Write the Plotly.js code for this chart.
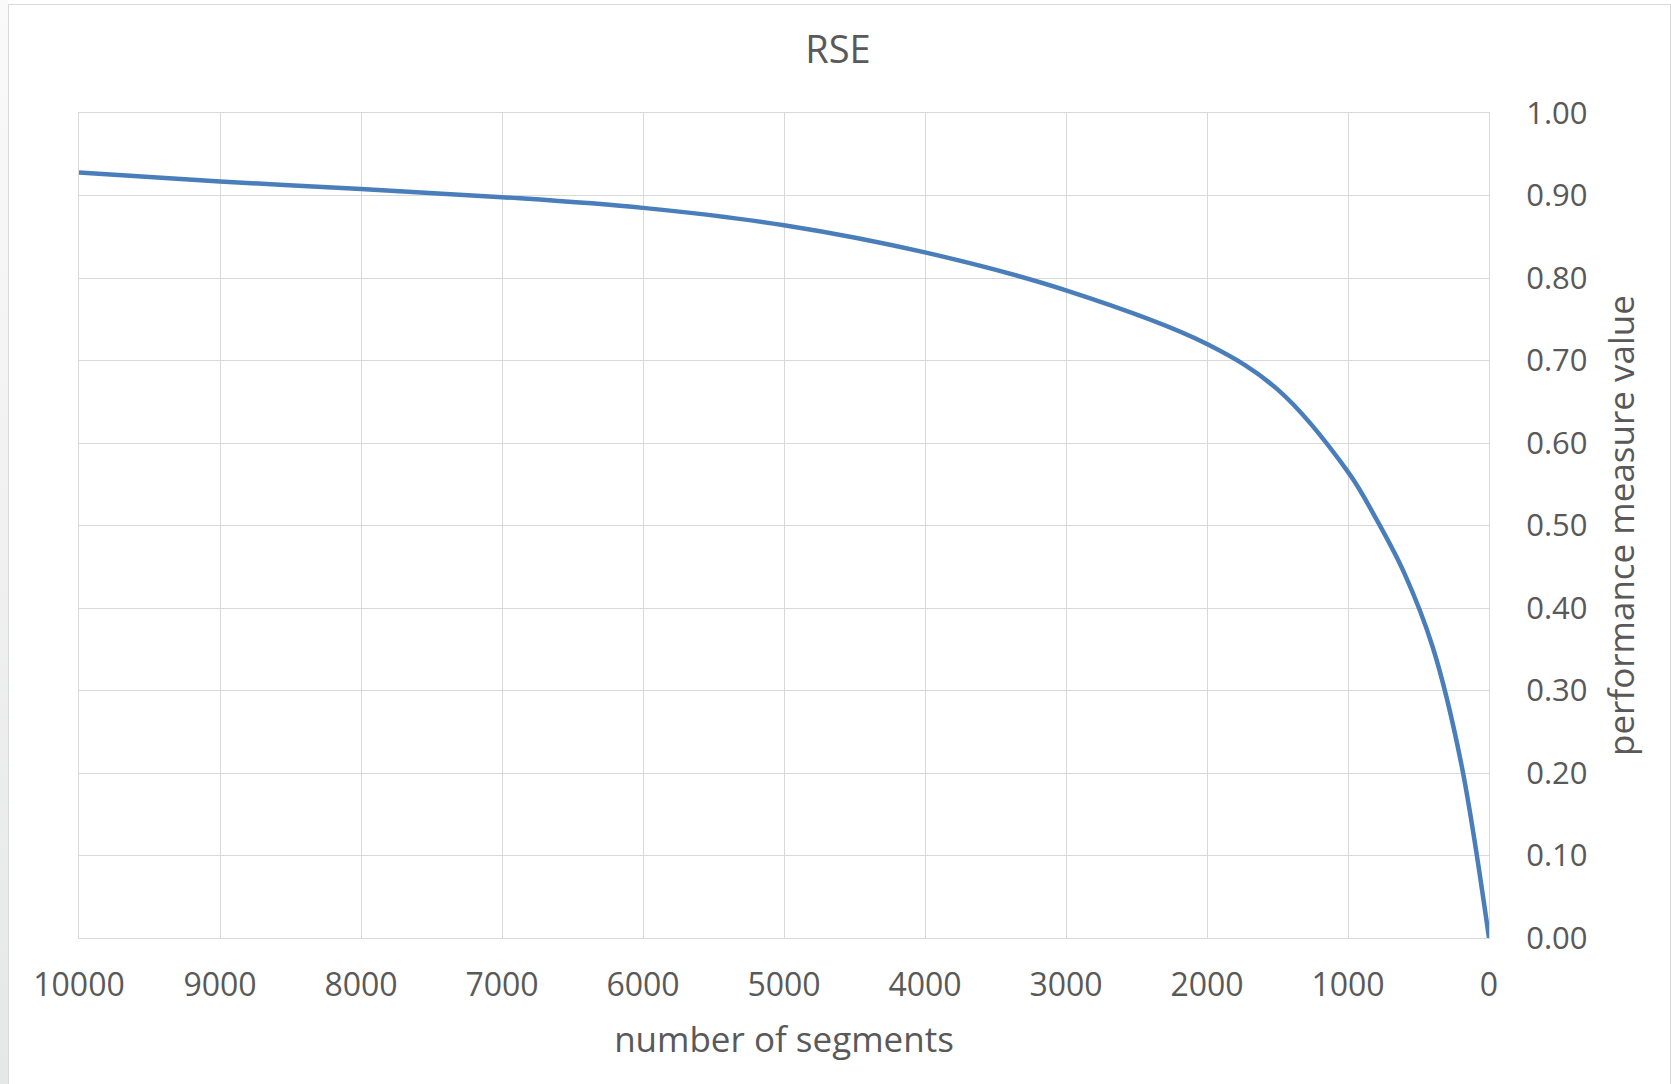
<!DOCTYPE html>
<html>
<head>
<meta charset="utf-8">
<script src="https://cdn.plot.ly/plotly-3.0.1.min.js"></script>
<style>
  html, body { margin: 0; padding: 0; background: #ffffff; }
  #stage { position: relative; width: 1671px; height: 1084px; overflow: hidden; }
  #edge { position: absolute; left: 0; top: 0; width: 8px; height: 1084px;
          background: linear-gradient(#fafafa, #e6e7e7); }
  #frame { position: absolute; left: 8px; top: 4px; width: 1663px; height: 1090px;
           border: 1px solid #d9d9d9; box-sizing: border-box; background: #ffffff; }
  #chart { position: absolute; left: 0; top: 0; width: 1671px; height: 1084px; }
</style>
</head>
<body>
<div id="stage">
  <div id="edge"></div>
  <div id="frame"></div>
  <div id="chart"></div>
</div>
<script>
// RSE performance measure against the number of segments kept
const segments = [10000, 9000, 8000, 7000, 6000, 5000, 4000, 3000, 2000, 1500, 1000, 800, 600, 400, 200, 0];
const rse      = [0.928, 0.917, 0.908, 0.898, 0.885, 0.864, 0.831, 0.785, 0.720, 0.665, 0.565, 0.508, 0.442, 0.353, 0.214, 0.0];

const xTicks = [10000, 9000, 8000, 7000, 6000, 5000, 4000, 3000, 2000, 1000, 0];
const yTicks = [0, 0.1, 0.2, 0.3, 0.4, 0.5, 0.6, 0.7, 0.8, 0.9, 1.0];

const textColor = '#595959';
const gridColor = '#d9d9d9';

const trace = {
  x: segments,
  y: rse,
  type: 'scatter',
  mode: 'lines',
  line: { color: '#4a7ebb', width: 4.5, shape: 'spline', smoothing: 1 },
  hoverinfo: 'x+y',
  showlegend: false
};

const layout = {
  width: 1671,
  height: 1084,
  paper_bgcolor: 'rgba(0,0,0,0)',
  plot_bgcolor: '#ffffff',
  margin: { l: 79, r: 182, t: 113, b: 146, pad: 0 },
  title: {
    text: 'RSE',
    font: { family: 'Open Sans', size: 38, color: textColor },
    xref: 'container', x: 0.5015,
    yref: 'container', y: 1 - 50 / 1084, yanchor: 'middle'
  },
  xaxis: {
    range: [10000, 0],
    tickvals: xTicks,
    ticktext: xTicks.map(String),
    showgrid: true,
    gridcolor: gridColor,
    gridwidth: 1,
    zeroline: false,
    showline: true,
    linecolor: gridColor,
    linewidth: 1,
    mirror: true,
    ticks: '',
    ticklabelstandoff: 19,
    tickfont: { family: 'Open Sans', size: 32, color: textColor },
    title: {
      text: 'number of segments',
      font: { family: 'Open Sans', size: 35, color: textColor },
      standoff: 23
    }
  },
  yaxis: {
    side: 'right',
    range: [0, 1],
    tickvals: yTicks,
    tickformat: '.2f',
    showgrid: true,
    gridcolor: gridColor,
    gridwidth: 1,
    zeroline: false,
    showline: true,
    linecolor: gridColor,
    linewidth: 1,
    mirror: true,
    ticks: '',
    ticklabelstandoff: 30,
    tickfont: { family: 'Open Sans', size: 31, color: textColor },
    title: {
      text: 'performance measure value',
      font: { family: 'Open Sans', size: 35, color: textColor },
      standoff: 22
    }
  }
};

Plotly.newPlot('chart', [trace], layout, { displayModeBar: false, responsive: false });
</script>
</body>
</html>
